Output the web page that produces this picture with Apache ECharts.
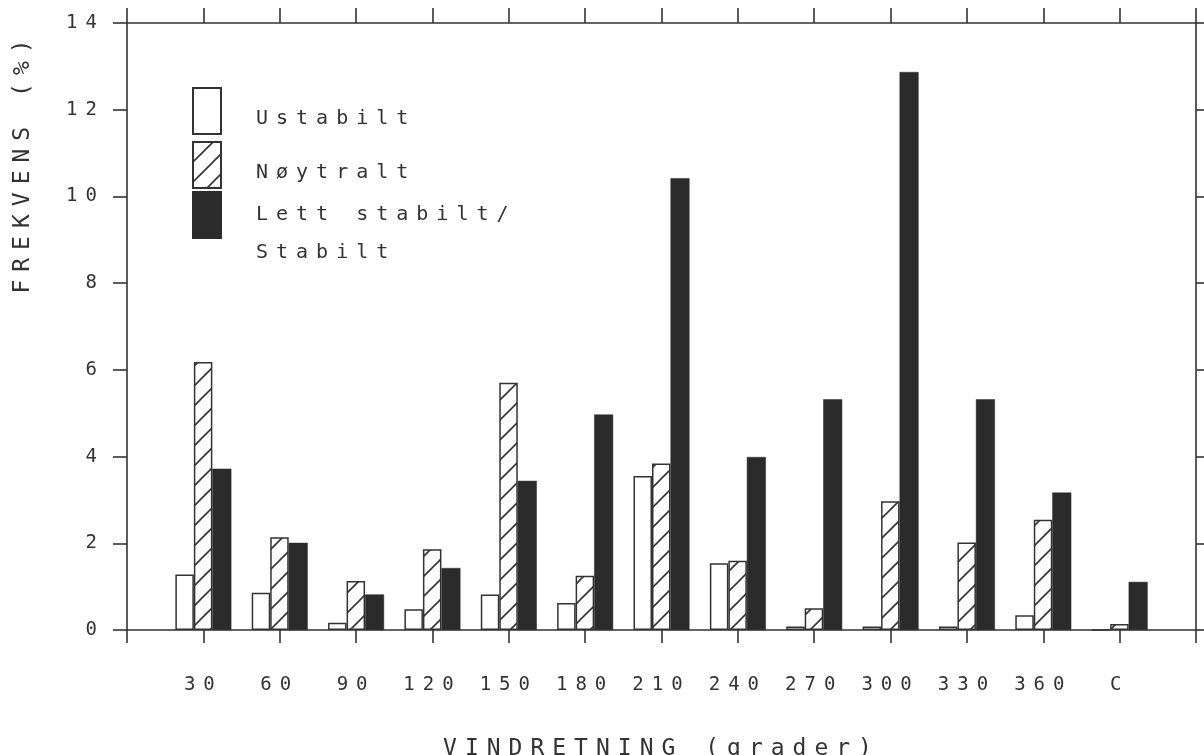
<!DOCTYPE html>
<html>
<head>
<meta charset="utf-8">
<script src="https://cdn.jsdelivr.net/npm/echarts@6/dist/echarts.min.js"></script>
<style>
  html, body { margin: 0; padding: 0; background: #fff; }
  #chart { width: 1204px; height: 755px; }
</style>
</head>
<body>
<div id="chart"></div>
<script>
// Wind direction sectors (degrees) plus calm
const categories = ['30', '60', '90', '120', '150', '180', '210', '240', '270', '300', '330', '360', 'C'];
// Frequency (%) per stability class
const ustabilt = [1.28, 0.86, 0.17, 0.48, 0.82, 0.62, 3.55, 1.54, 0.08, 0.08, 0.08, 0.34, 0];
const noytralt = [6.18, 2.14, 1.13, 1.86, 5.70, 1.25, 3.84, 1.60, 0.50, 2.97, 2.02, 2.54, 0.14];
const stabilt  = [3.72, 2.01, 0.82, 1.43, 3.44, 4.97, 10.42, 3.99, 5.32, 12.87, 5.32, 3.17, 1.11];
const seriesNames = ['Ustabilt', 'Nøytralt', 'Lett stabilt/\nStabilt'];
const yTicks = [0, 2, 4, 6, 8, 10, 12, 14];

// Wide plotter-style lettering: add tracking to every canvas text call
const TEXT_TRACKING = '8px';
(function () {
  const proto = CanvasRenderingContext2D.prototype;
  if (!('letterSpacing' in proto)) return;
  const fill = proto.fillText;
  const measure = proto.measureText;
  proto.fillText = function () { this.letterSpacing = TEXT_TRACKING; return fill.apply(this, arguments); };
  proto.measureText = function () { this.letterSpacing = TEXT_TRACKING; return measure.apply(this, arguments); };
})();

const INK = '#333';
const FONT = 'DejaVu Sans Mono';

// Diagonal hatch tile for the neutral class
function hatchTile() {
  const c = document.createElement('canvas');
  c.width = 20; c.height = 20;
  const g = c.getContext('2d');
  g.fillStyle = '#fff';
  g.fillRect(0, 0, 20, 20);
  g.strokeStyle = INK;
  g.lineWidth = 1.6;
  [[-10, 10, 10, -10], [0, 20, 20, 0], [10, 30, 30, 10]].forEach(function (l) {
    g.beginPath(); g.moveTo(l[0], l[1]); g.lineTo(l[2], l[3]); g.stroke();
  });
  return c;
}

const toPoints = arr => arr.map((v, i) => [i + 1, v]);

const chart = echarts.init(document.getElementById('chart'), null, { renderer: 'canvas' });

const axisLine = { show: true, onZero: false, lineStyle: { color: INK, width: 1.6 } };
const labelStyle = { fontFamily: FONT, fontSize: 19, color: INK };
const legendFont = { fontFamily: FONT, fontSize: 20, color: INK };

// Shared legend box settings; the two-line class gets its own block
const legendBase = {
  orient: 'vertical',
  left: 192,
  padding: 0,
  itemWidth: 28,
  itemHeight: 46,
  itemGap: 6,
  icon: 'rect',
  selectedMode: false
};

chart.setOption({
  backgroundColor: '#fff',
  animation: false,
  grid: { left: 127, right: 8, top: 23, bottom: 125, containLabel: false, outerBoundsMode: 'none' },
  legend: [
    Object.assign({}, legendBase, {
      top: 87,
      data: [seriesNames[0], seriesNames[1]],
      formatter: name => '{a|' + name + '}',
      textStyle: Object.assign({ padding: [0, 0, 0, 30], rich: {
        a: Object.assign({ lineHeight: 22, padding: [15, 0, 0, 0] }, legendFont)
      } }, legendFont)
    }),
    Object.assign({}, legendBase, {
      top: 163,
      data: [seriesNames[2]],
      formatter: name => {
        const lines = name.split('\n');
        return '{a|' + lines[0] + '}\n{b|' + lines[1] + '}';
      },
      textStyle: Object.assign({ padding: [0, 0, 0, 30], rich: {
        a: Object.assign({ lineHeight: 38, padding: [38, 0, 0, 0] }, legendFont),
        b: Object.assign({ lineHeight: 38, padding: [38, 0, 0, 0] }, legendFont)
      } }, legendFont)
    })
  ],
  xAxis: [
    {
      type: 'value', position: 'bottom', min: 0, max: 14, interval: 1,
      name: 'VINDRETNING (grader)', nameLocation: 'middle', nameGap: 104,
      nameTextStyle: { fontFamily: FONT, fontSize: 23, color: INK },
      axisLine: axisLine,
      axisTick: { show: true, inside: false, length: 13, lineStyle: { color: INK, width: 1.6 } },
      axisLabel: Object.assign({ margin: 42, formatter: v => categories[v - 1] || '' }, labelStyle),
      splitLine: { show: false }
    },
    {
      type: 'value', position: 'top', min: 0, max: 14, interval: 1,
      axisLine: axisLine,
      axisTick: { show: true, inside: false, length: 15, lineStyle: { color: INK, width: 1.6 } },
      axisLabel: { show: false },
      splitLine: { show: false }
    }
  ],
  yAxis: [
    {
      type: 'value', position: 'left', min: yTicks[0], max: yTicks[yTicks.length - 1], interval: 2,
      name: 'FREKVENS (%)', nameLocation: 'middle', nameGap: 88, nameRotate: 90,
      nameTextStyle: { fontFamily: FONT, fontSize: 23, color: INK, padding: [0, 0, 0, 328] },
      axisLine: axisLine,
      axisTick: { show: true, inside: false, length: 14, lineStyle: { color: INK, width: 1.6 } },
      axisLabel: Object.assign({ margin: 22 }, labelStyle),
      splitLine: { show: false }
    },
    {
      type: 'value', position: 'right', min: yTicks[0], max: yTicks[yTicks.length - 1], interval: 2,
      axisLine: axisLine,
      axisTick: { show: true, inside: false, length: 10, lineStyle: { color: INK, width: 1.6 } },
      axisLabel: { show: false },
      splitLine: { show: false }
    }
  ],
  series: [
    {
      name: seriesNames[0], type: 'bar', data: toPoints(ustabilt),
      barWidth: 18.5, barGap: '0%',
      itemStyle: { color: '#fff', borderColor: INK, borderWidth: 1.5 }
    },
    {
      name: seriesNames[1], type: 'bar', data: toPoints(noytralt),
      barWidth: 18.5, barGap: '0%',
      itemStyle: { color: { image: hatchTile(), repeat: 'repeat' }, borderColor: INK, borderWidth: 1.5 }
    },
    {
      name: seriesNames[2], type: 'bar', data: toPoints(stabilt),
      barWidth: 19, barGap: '0%',
      itemStyle: { color: '#2b2b2b', borderColor: '#2b2b2b', borderWidth: 0.5 }
    }
  ]
});
</script>
</body>
</html>
